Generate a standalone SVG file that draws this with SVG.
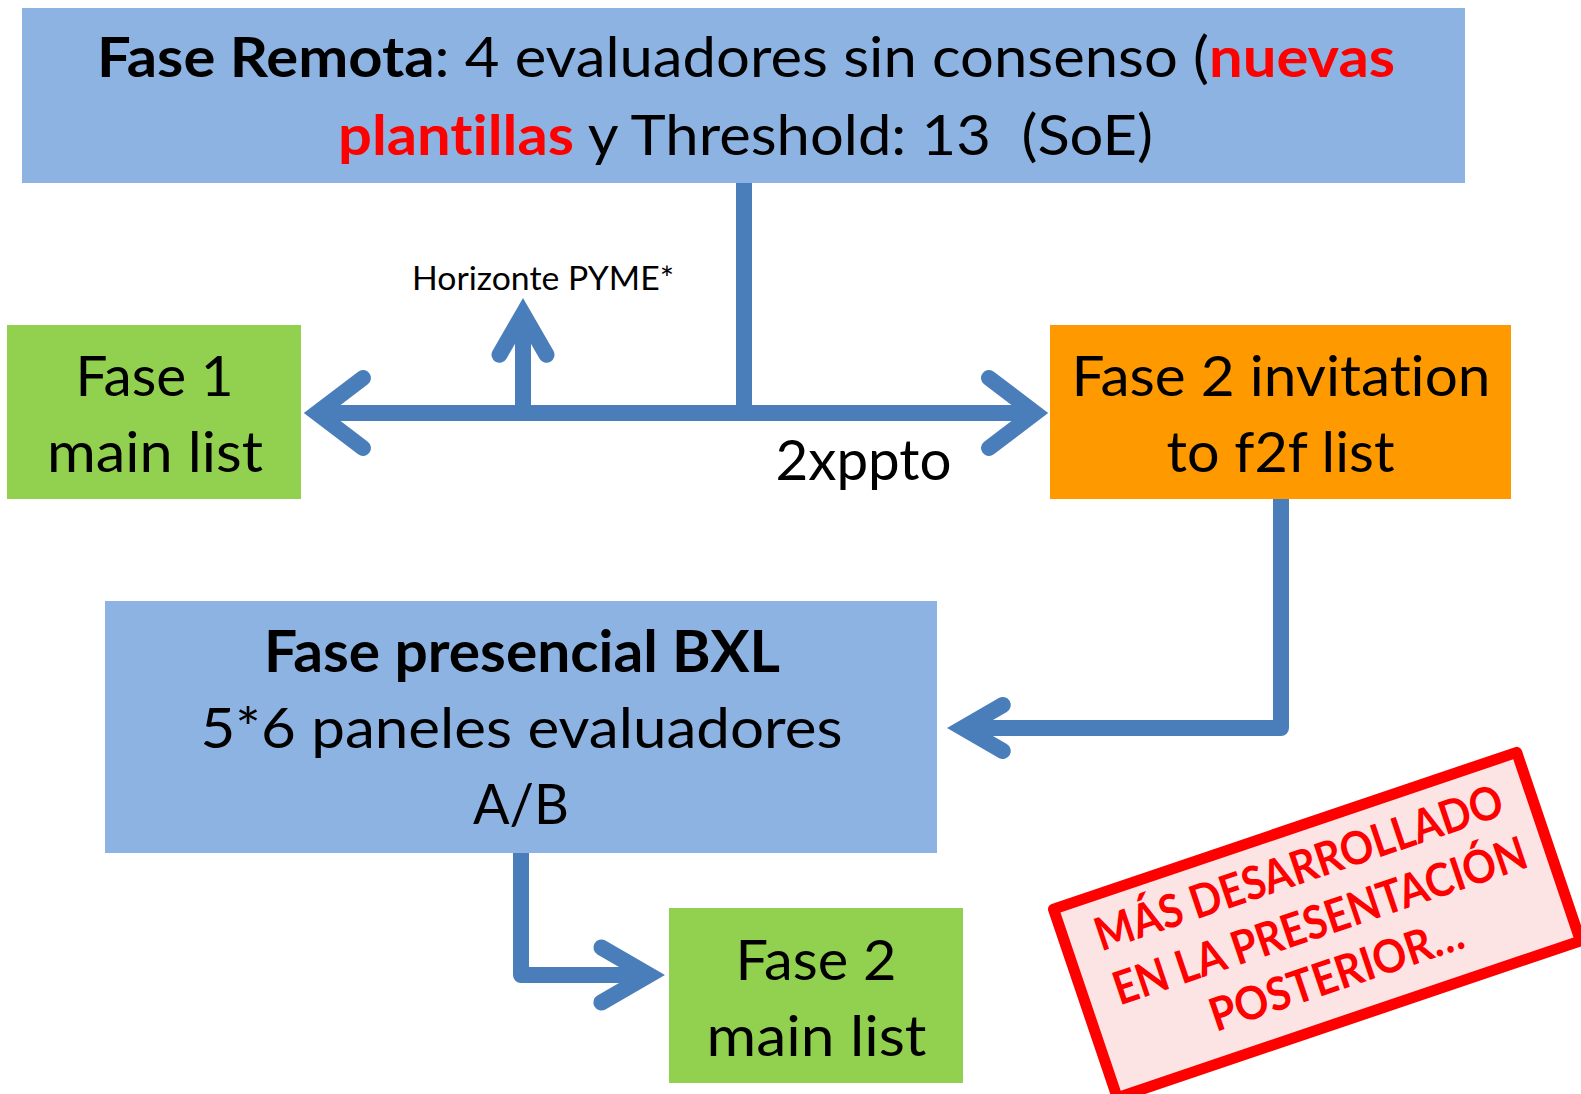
<svg xmlns="http://www.w3.org/2000/svg" width="1581" height="1094" viewBox="0 0 1581 1094">
<defs>
<style>
.t{font-family:Lato,"Liberation Sans",sans-serif;font-size:57px;fill:#000;text-anchor:middle;font-variant-ligatures:none}
.b{font-weight:bold}
.red{fill:#FF0000}
.conn{fill:none;stroke:#4A7EBB;stroke-width:16;stroke-linejoin:round;stroke-linecap:butt}
.head{fill:none;stroke:#4A7EBB;stroke-width:16;stroke-linejoin:miter;stroke-miterlimit:10;stroke-linecap:round}
.stamp{font-family:Lato,"Liberation Sans",sans-serif;font-size:46px;font-weight:bold;fill:#FF0000;text-anchor:middle;font-variant-ligatures:none}
</style>
</defs>
<rect width="1581" height="1094" fill="#FFFFFF"/>

<g id="connectors">
  <line class="conn" x1="744" y1="183" x2="744" y2="413"/>
  <line class="conn" x1="317" y1="413" x2="1035" y2="413"/>
  <polyline class="head" points="363,378 317,413 363,448"/>
  <polyline class="head" points="989,378 1035,413 989,448"/>
  <line class="conn" x1="523" y1="413" x2="523" y2="314"/>
  <polyline class="head" points="499.5,354.7 523,314 546.5,354.7"/>
  <path class="conn" d="M1281,499 V728 H963"/>
  <polyline class="head" points="1002.8,705 963,728 1002.8,751"/>
  <path class="conn" d="M521,852 V975 H649"/>
  <polyline class="head" points="601.4,947.5 649,975 601.4,1002.5"/>
  <text class="t" x="543" y="290" style="font-size:32px" textLength="262" lengthAdjust="spacingAndGlyphs">Horizonte PYME*</text>
  <text class="t" x="863.5" y="480" textLength="176" lengthAdjust="spacingAndGlyphs">2xppto</text>
</g>

<g id="fase-remota">
  <rect x="22" y="8" width="1443" height="175" fill="#8DB3E2"/>
  <text class="t" x="746" y="77" style="font-size:56px" textLength="1298" lengthAdjust="spacingAndGlyphs"><tspan class="b">Fase Remota</tspan>: 4 evaluadores sin consenso (<tspan class="b red">nuevas</tspan></text>
  <text class="t" x="745.5" y="155" style="font-size:56px" xml:space="preserve" textLength="815" lengthAdjust="spacingAndGlyphs"><tspan class="b red">plantillas</tspan> y Threshold: 13  (SoE)</text>
</g>

<g id="fase1">
  <rect x="7" y="325" width="294" height="174" fill="#92D050"/>
  <text class="t" x="154.5" y="396" textLength="158" lengthAdjust="spacingAndGlyphs">Fase 1</text>
  <text class="t" x="155" y="472" textLength="216" lengthAdjust="spacingAndGlyphs">main list</text>
</g>

<g id="fase2-invitation">
  <rect x="1050" y="325" width="461" height="174" fill="#FF9900"/>
  <text class="t" x="1281" y="396" textLength="419" lengthAdjust="spacingAndGlyphs">Fase 2 invitation</text>
  <text class="t" x="1280.5" y="472" textLength="228" lengthAdjust="spacingAndGlyphs">to f2f list</text>
</g>

<g id="fase-presencial">
  <rect x="105" y="601" width="832" height="252" fill="#8DB3E2"/>
  <text class="t b" x="522" y="672" textLength="516" lengthAdjust="spacingAndGlyphs">Fase presencial BXL</text>
  <text class="t" x="521.5" y="748" textLength="642" lengthAdjust="spacingAndGlyphs">5*6 paneles evaluadores</text>
  <text class="t" x="521" y="824" textLength="96" lengthAdjust="spacingAndGlyphs">A/B</text>
</g>

<g id="fase2-main">
  <rect x="669" y="908" width="294" height="175" fill="#92D050"/>
  <text class="t" x="816" y="980" textLength="161" lengthAdjust="spacingAndGlyphs">Fase 2</text>
  <text class="t" x="816.5" y="1056" textLength="220" lengthAdjust="spacingAndGlyphs">main list</text>
</g>

<g id="stamp" transform="translate(1317,925) rotate(-18.7)">
  <rect x="-244.5" y="-99.5" width="489" height="199" fill="#FDE4E4" stroke="#FF0000" stroke-width="11" stroke-linejoin="round"/>
  <text class="stamp" x="1" y="-44" textLength="428" lengthAdjust="spacingAndGlyphs">MÁS DESARROLLADO</text>
  <text class="stamp" x="4" y="13" textLength="434" lengthAdjust="spacingAndGlyphs">EN LA PRESENTACIÓN</text>
  <text class="stamp" x="2.5" y="69" textLength="265" lengthAdjust="spacingAndGlyphs">POSTERIOR…</text>
</g>
</svg>
